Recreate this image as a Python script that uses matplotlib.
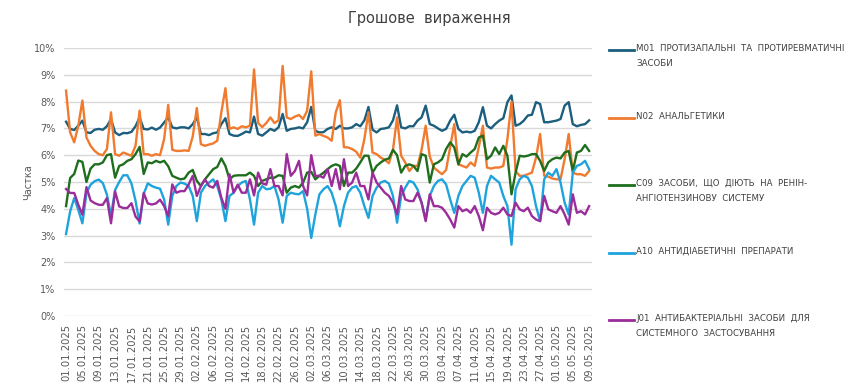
import numpy as np
import pandas as pd
import matplotlib
matplotlib.use("Agg")
import matplotlib.pyplot as plt
from matplotlib.lines import Line2D

# ---------------------------------------------------------------------------
# daily shares (%), 01.01.2025 .. 09.05.2025
# ---------------------------------------------------------------------------
dates = pd.date_range("2025-01-01", "2025-05-09", freq="D")

m01 = [7.25, 6.98, 6.94, 7.10, 7.29, 6.85, 6.83, 6.95, 6.98, 6.95, 7.08, 7.35, 6.85, 6.75, 6.83, 6.82, 6.87, 7.08, 7.41, 6.98,
       6.96, 7.03, 6.95, 7.03, 7.22, 7.41, 7.04, 7.00, 7.04, 7.04, 7.00, 7.16, 7.41, 6.79, 6.79, 6.75, 6.82, 6.85, 7.16, 7.38,
       6.79, 6.73, 6.72, 6.79, 6.88, 6.85, 7.44, 6.79, 6.73, 6.85, 6.98, 6.91, 7.04, 7.54, 6.91, 6.98, 7.00, 7.04, 7.00, 7.23,
       7.80, 6.91, 6.85, 6.86, 6.98, 7.04, 6.98, 7.10, 7.00, 7.00, 7.04, 7.16, 7.08, 7.30, 7.80, 6.95, 6.85, 6.98, 7.00, 7.04,
       7.30, 7.86, 7.04, 7.00, 7.08, 7.08, 7.29, 7.41, 7.85, 7.16, 7.10, 7.00, 6.91, 6.98, 7.29, 7.51, 6.98, 6.85, 6.88, 6.85,
       6.91, 7.23, 7.79, 7.10, 7.00, 7.16, 7.29, 7.38, 7.98, 8.23, 7.10, 7.16, 7.29, 7.48, 7.51, 7.98, 7.91, 7.23, 7.23, 7.26,
       7.29, 7.35, 7.85, 7.98, 7.16, 7.08, 7.13, 7.16, 7.30]

n02 = [8.41, 6.85, 6.48, 7.10, 8.04, 6.66, 6.35, 6.16, 6.04, 6.00, 6.23, 7.60, 6.04, 5.98, 6.10, 6.04, 5.98, 6.35, 7.66, 6.04,
       6.04, 5.98, 6.04, 6.00, 6.60, 7.88, 6.20, 6.16, 6.16, 6.18, 6.16, 6.70, 7.76, 6.41, 6.35, 6.40, 6.44, 6.54, 7.60, 8.50,
       6.98, 7.04, 6.98, 7.08, 7.04, 7.10, 9.20, 7.20, 7.05, 7.20, 7.41, 7.20, 7.30, 9.33, 7.41, 7.35, 7.44, 7.50, 7.35, 7.66,
       9.13, 6.73, 6.79, 6.72, 6.66, 6.54, 7.60, 8.05, 6.30, 6.29, 6.23, 6.13, 5.91, 6.60, 7.60, 6.10, 6.04, 5.91, 5.83, 5.70,
       6.20, 7.41, 5.98, 5.73, 5.41, 5.60, 5.60, 6.20, 7.10, 5.95, 5.54, 5.41, 5.29, 5.45, 6.30, 7.16, 5.66, 5.60, 5.54, 5.73,
       5.60, 6.30, 7.10, 5.54, 5.50, 5.54, 5.54, 5.60, 6.60, 8.00, 5.41, 5.23, 5.23, 5.29, 5.35, 5.91, 6.79, 5.23, 5.20, 5.13,
       5.10, 5.10, 5.85, 6.79, 5.35, 5.29, 5.29, 5.23, 5.41]

c09 = [4.10, 5.15, 5.30, 5.80, 5.75, 5.00, 5.50, 5.66, 5.66, 5.73, 6.00, 6.04, 5.16, 5.60, 5.66, 5.79, 5.85, 6.04, 6.31, 5.30,
       5.73, 5.70, 5.79, 5.73, 5.79, 5.59, 5.23, 5.16, 5.10, 5.13, 5.35, 5.45, 5.04, 4.85, 5.10, 5.29, 5.48, 5.56, 5.88, 5.60,
       5.10, 5.23, 5.25, 5.25, 5.25, 5.35, 5.23, 4.85, 5.04, 5.10, 5.16, 5.16, 5.25, 5.23, 4.60, 4.79, 4.85, 4.79, 4.98, 5.35,
       5.38, 5.10, 5.23, 5.35, 5.48, 5.60, 5.66, 5.60, 4.85, 5.35, 5.35, 5.50, 5.73, 5.98, 5.98, 5.35, 5.60, 5.73, 5.83, 5.88,
       6.20, 6.00, 5.35, 5.60, 5.66, 5.60, 5.41, 6.04, 5.98, 4.98, 5.66, 5.73, 5.85, 6.23, 6.48, 6.29, 5.66, 6.04, 5.95, 6.10,
       6.23, 6.66, 6.73, 5.85, 5.98, 6.29, 6.04, 6.35, 5.98, 4.54, 5.35, 5.98, 5.95, 5.98, 6.04, 6.04, 5.79, 5.41, 5.73, 5.85,
       5.91, 5.88, 6.10, 6.16, 5.41, 6.10, 6.16, 6.38, 6.16]

a10 = [3.06, 3.90, 4.40, 3.96, 3.46, 4.59, 4.90, 5.03, 5.09, 4.96, 4.53, 3.75, 4.70, 5.00, 5.25, 5.25, 4.95, 4.30, 3.45, 4.55,
       4.95, 4.85, 4.79, 4.75, 4.35, 3.41, 4.48, 4.85, 4.98, 4.94, 4.85, 4.48, 3.54, 4.60, 4.85, 4.98, 5.10, 4.85, 4.35, 3.54,
       4.48, 4.60, 4.85, 4.98, 5.04, 4.35, 3.41, 4.60, 4.85, 4.73, 4.75, 4.85, 4.35, 3.48, 4.48, 4.60, 4.56, 4.54, 4.66, 4.00,
       2.91, 3.79, 4.54, 4.73, 4.85, 4.60, 4.10, 3.35, 4.10, 4.60, 4.79, 4.85, 4.60, 4.10, 3.66, 4.48, 4.79, 4.98, 5.04, 4.94,
       4.48, 3.48, 4.48, 4.79, 5.04, 4.98, 4.73, 4.23, 3.60, 4.48, 4.85, 5.04, 5.10, 4.91, 4.35, 3.85, 4.48, 4.85, 5.04, 5.23,
       5.16, 4.60, 3.85, 4.85, 5.23, 5.10, 4.98, 4.48, 4.10, 2.66, 4.73, 5.10, 5.23, 5.16, 4.85, 4.10, 3.54, 5.10, 5.35, 5.23,
       5.48, 4.98, 4.23, 3.79, 5.35, 5.60, 5.66, 5.79, 5.48]

j01 = [4.74, 4.59, 4.59, 4.15, 3.78, 4.81, 4.31, 4.21, 4.15, 4.15, 4.40, 3.46, 4.65, 4.09, 4.03, 4.03, 4.21, 3.71, 3.53, 4.59,
       4.20, 4.16, 4.20, 4.34, 4.10, 3.73, 4.91, 4.60, 4.66, 4.66, 4.91, 5.23, 4.48, 4.85, 5.10, 4.85, 4.79, 5.04, 4.41, 4.00,
       5.29, 4.60, 4.90, 4.60, 4.60, 5.10, 4.50, 5.35, 4.95, 4.90, 5.48, 4.85, 4.85, 4.50, 6.04, 5.23, 5.41, 5.79, 4.85, 4.50,
       6.00, 5.23, 5.23, 5.16, 5.48, 4.85, 5.48, 4.73, 5.85, 4.85, 4.98, 5.35, 4.85, 4.85, 4.35, 5.35, 4.98, 4.79, 4.60, 4.48,
       4.23, 3.79, 4.85, 4.35, 4.29, 4.29, 4.60, 4.23, 3.54, 4.54, 4.10, 4.10, 4.04, 3.85, 3.60, 3.30, 4.10, 3.91, 3.98, 3.85,
       4.10, 3.73, 3.20, 4.04, 3.85, 3.79, 3.85, 4.04, 3.79, 3.73, 4.23, 3.98, 3.91, 4.04, 3.73, 3.60, 3.54, 4.48, 3.98, 3.91,
       3.85, 4.10, 3.79, 3.41, 4.54, 3.85, 3.91, 3.79, 4.10]

series_labels = [
    "M01  ПРОТИЗАПАЛЬНІ  ТА  ПРОТИРЕВМАТИЧНІ\nЗАСОБИ",
    "N02  АНАЛЬГЕТИКИ",
    "C09  ЗАСОБИ,  ЩО  ДІЮТЬ  НА  РЕНІН-\nАНГІОТЕНЗИНОВУ  СИСТЕМУ",
    "A10  АНТИДІАБЕТИЧНІ  ПРЕПАРАТИ",
    "J01  АНТИБАКТЕРІАЛЬНІ  ЗАСОБИ  ДЛЯ\nСИСТЕМНОГО  ЗАСТОСУВАННЯ",
]
series_values = [m01, n02, c09, a10, j01]
colors = ["#1b5e7e", "#f07a2e", "#1e6e1e", "#1ea3dc", "#9b2d9b"]

TEXT = "#595959"
GRID = "#d9d9d9"

fig = plt.figure(figsize=(8.5, 3.88), dpi=100)
ax = fig.add_axes([64 / 850, 1 - 316 / 388, 528 / 850, 268 / 388])

x = np.arange(len(dates))
for vals, col in zip(series_values, colors):
    ax.plot(x, vals, color=col, lw=1.7, solid_joinstyle="round")

ax.set_ylim(0, 10)
ax.set_xlim(-0.5, 128.7)
ax.set_yticks(np.arange(0, 11, 1))
ax.set_yticklabels([f"{v}%" for v in range(11)], fontsize=7, color=TEXT)
ticks = x[::4]
ax.set_xticks(ticks)
ax.set_xticklabels([dates[i].strftime("%d.%m.%Y") for i in ticks],
                   rotation=90, fontsize=7.2, color=TEXT)
ax.tick_params(length=0, pad=6)
ax.grid(axis="y", color=GRID, lw=1)
ax.set_axisbelow(True)
for s in ax.spines.values():
    s.set_visible(False)

ax.set_ylabel("Частка", fontsize=7, color=TEXT, labelpad=1)
fig.text(0.505, 1 - 18 / 388, "Грошове  вираження", ha="center", va="center",
         fontsize=10.5, color="#404040")

# legend on the right, drawn by hand so the rows keep an even pitch
y0, step = 50, 67.5
for i, (lab, col) in enumerate(zip(series_labels, colors)):
    yy = 1 - (y0 + i * step) / 388
    fig.add_artist(Line2D([609 / 850, 634 / 850], [yy, yy], color=col, lw=2))
    fig.text(636 / 850, yy + 6 / 388, lab, ha="left", va="top", fontsize=6.2,
             color="#404040", linespacing=1.9)

fig.savefig("out.png", dpi=100)
